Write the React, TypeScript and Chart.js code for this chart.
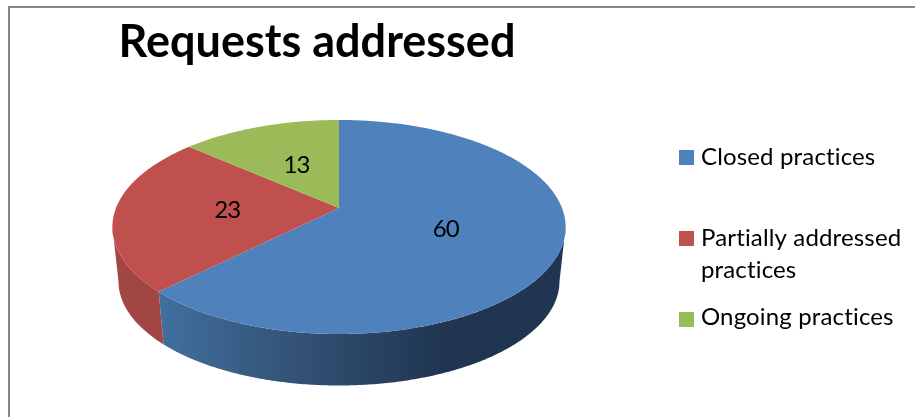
import React, { useEffect, useRef } from "react";
import { Chart, registerables } from "chart.js";

Chart.register(...registerables);

const title = "Requests addressed";
const categories = ["Closed practices", "Partially addressed practices", "Ongoing practices"];
const legendLines = [["Closed practices"], ["Partially addressed", "practices"], ["Ongoing practices"]];
const values = [60, 23, 13];
const sliceColors = ["#4f81bd", "#c0504d", "#9bbb59"];

// Projection of the unit disc onto the tilted pie (perspective view)
const CX = 339, CY = 208, B = 223, A = 66.7, K = 0.1776;
const S = 0.973, C = 60.5;
const FONT = "Lato, Carlito, sans-serif";

function project(theta: number, r = 1) {
  const u = Math.sin(theta) * r;
  const v = Math.cos(theta) * r;
  const w = 1 + K * v;
  return { x: CX + (B * u) / w, y: (CY - A * v) / w };
}
function lower(p: { x: number; y: number }) {
  return { x: CX + S * (p.x - CX), y: p.y * S + C };
}
function sample(a: number, b: number) {
  const n = Math.max(2, Math.ceil(Math.abs(b - a) / 0.01));
  const pts: number[] = [];
  for (let i = 0; i <= n; i++) pts.push(a + ((b - a) * i) / n);
  return pts;
}

const pie3d = {
  id: "pie3d",
  beforeDatasetDraw(chart: any) {
    const ctx = chart.ctx as any;
    const arcs = chart.getDatasetMeta(0).data;
    const th = (x: number) => x + Math.PI / 2;
    const wallStart = Math.acos(-K);
    const wallEnd = 2 * Math.PI - wallStart;

    // frame
    ctx.save();
    ctx.fillStyle = "#868686";
    ctx.fillRect(8, 6, 907, 2);
    ctx.fillRect(8, 6, 2, 411);
    ctx.restore();

    // side walls
    arcs.forEach((arc: any, i: number) => {
      const a = Math.max(th(arc.startAngle), wallStart);
      const b = Math.min(th(arc.endAngle), wallEnd);
      if (b <= a) return;
      const angs = sample(a, b);
      ctx.beginPath();
      angs.forEach((t, j) => {
        const p = project(t);
        if (j === 0) ctx.moveTo(p.x, p.y);
        else ctx.lineTo(p.x, p.y);
      });
      angs.slice().reverse().forEach((t) => {
        const p = lower(project(t));
        ctx.lineTo(p.x, p.y);
      });
      ctx.closePath();
      if (i === 0) {
        const g = ctx.createLinearGradient(158, 0, 445, 0);
        g.addColorStop(0, "#41709f");
        g.addColorStop(0.45, "#345478");
        g.addColorStop(1, "#1f3550");
        ctx.fillStyle = g;
      } else {
        ctx.fillStyle = "#a24643";
      }
      ctx.fill();
    });

    // top faces
    arcs.forEach((arc: any, i: number) => {
      const angs = sample(th(arc.startAngle), th(arc.endAngle));
      ctx.beginPath();
      ctx.moveTo(CX, CY);
      angs.forEach((t) => {
        const p = project(t);
        ctx.lineTo(p.x, p.y);
      });
      ctx.closePath();
      ctx.fillStyle = sliceColors[i];
      ctx.fill();
    });

    // value labels
    ctx.fillStyle = "#000";
    ctx.font = `24px ${FONT}`;
    ctx.letterSpacing = "-1px";
    ctx.textAlign = "center";
    ctx.textBaseline = "middle";
    arcs.forEach((arc: any, i: number) => {
      const p = project((th(arc.startAngle) + th(arc.endAngle)) / 2, 0.5);
      ctx.fillText(String(values[i]), p.x, p.y + 1);
    });

    // title
    ctx.letterSpacing = "0px";
    ctx.textAlign = "center";
    ctx.textBaseline = "alphabetic";
    ctx.font = `bold 45px ${FONT}`;
    ctx.fillText(title, 317, 57);

    // legend
    ctx.textAlign = "left";
    ctx.font = `24px ${FONT}`;
    ctx.letterSpacing = "0.15px";
    const squareTops = [150, 231, 312];
    const baselines = [[165], [246, 278], [325]];
    categories.forEach((_, i) => {
      ctx.fillStyle = sliceColors[i];
      ctx.fillRect(679, squareTops[i], 15, 15);
      ctx.fillStyle = "#000";
      legendLines[i].forEach((line, j) => ctx.fillText(line, 701, baselines[i][j]));
    });
    ctx.letterSpacing = "0px";
    return false;
  },
};

export default function App() {
  const ref = useRef<HTMLCanvasElement>(null);
  useEffect(() => {
    const chart = new Chart(ref.current!, {
      type: "pie",
      data: {
        labels: categories,
        datasets: [{ data: values, backgroundColor: sliceColors, borderWidth: 0 }],
      },
      options: {
        responsive: false,
        animation: false,
        devicePixelRatio: 1,
        plugins: { legend: { display: false }, tooltip: { enabled: false } },
      },
      plugins: [pie3d],
    } as any);
    return () => chart.destroy();
  }, []);
  return (
    <div style={{ position: "fixed", left: 0, top: 0, width: 915, height: 417, background: "#fff" }}>
      <canvas ref={ref} width={915} height={417} style={{ display: "block" }} />
    </div>
  );
}
